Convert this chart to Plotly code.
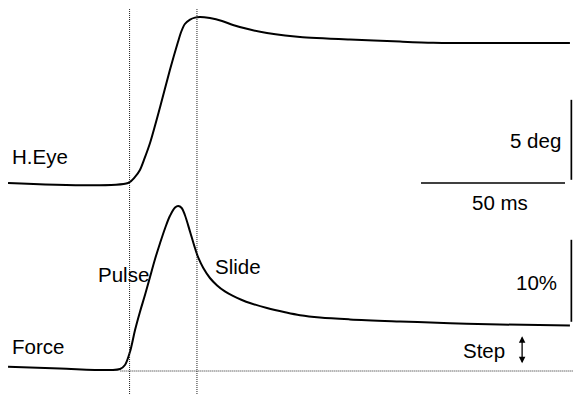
import plotly.graph_objects as go

# time in ms (0 = saccade onset)
eye_t = [-42.0, -0.3, 2.1, 3.8, 5.2, 7.3, 10.8, 14.2, 17.0, 18.1, 19.4, 21.2, 22.9, 24.6,
         28.1, 32.3, 36.1, 42.0, 47.9, 54.2, 59.4, 76.7, 94.1, 105.6, 118.4, 135.8, 153.1]
# horizontal eye position, deg
eye_deg = [0, 0, 0.38, 0.81, 1.44, 2.5, 4.75, 7.06, 8.81, 9.44, 9.94, 10.22, 10.34, 10.38,
           10.31, 10.13, 9.88, 9.59, 9.38, 9.22, 9.13, 8.97, 8.84, 8.77, 8.75, 8.75, 8.75]

force_t = [-42.0, -24.0, -6.6, -3.1, -1.4, 0.35, 2.1, 3.8, 5.6, 7.3, 9.0, 10.8, 12.5, 14.2,
           16.0, 17.1, 18.3, 19.4, 21.2, 22.9, 24.1, 25.8, 28.1, 30.6, 33.3, 36.1, 39.2, 42.0,
           47.9, 54.2, 59.4, 66.3, 76.7, 94.1, 111.5, 128.8, 153.1]
# muscle force, % of max
force_pct = [0.52, 0.30, 0.12, 0.24, 0.73, 2.35, 5.0, 7.2, 9.33, 11.46, 13.6, 15.61, 17.38,
             18.9, 19.94, 20.12, 19.88, 19.02, 16.99, 15.0, 13.78, 12.56, 11.34, 10.43, 9.70,
             9.15, 8.66, 8.29, 7.68, 7.16, 6.80, 6.52, 6.29, 6.04, 5.83, 5.67, 5.55]

phase_marks = [0.2, 23.6]          # onset / end of pulse, ms
deg_bar = [0.2, 5.2]               # 5 deg
ms_bar = [101.4, 151.4]            # 50 ms
pct_bar = [6.0, 16.0]              # 10 %
bar_t = 153.6
step_arrow = [0.75, 4.25]
step_t = 136.5

font = dict(family="Liberation Sans, Arial, Helvetica", size=20.5, color="black")

fig = go.Figure()
fig.add_trace(go.Scatter(x=eye_t, y=eye_deg, mode="lines", line=dict(color="black", width=2, shape="spline", smoothing=0.8), yaxis="y"))
fig.add_trace(go.Scatter(x=force_t, y=force_pct, mode="lines", line=dict(color="black", width=2, shape="spline", smoothing=1.0), yaxis="y2"))
fig.add_trace(go.Scatter(x=[bar_t, bar_t], y=deg_bar, mode="lines", line=dict(color="black", width=1.7), yaxis="y"))
fig.add_trace(go.Scatter(x=ms_bar, y=[0, 0], mode="lines", line=dict(color="black", width=1.7), yaxis="y"))
fig.add_trace(go.Scatter(x=[bar_t, bar_t], y=pct_bar, mode="lines", line=dict(color="black", width=1.7), yaxis="y2"))

for t in phase_marks:
    fig.add_shape(type="line", xref="x", yref="paper", x0=t, x1=t, y0=0, y1=0.977,
                  line=dict(color="#222", width=1, dash="1px,1px"))
fig.add_shape(type="line", xref="x", yref="y2", x0=-3, x1=154.2, y0=0, y1=0,
              line=dict(color="#222", width=1, dash="1px,1px"))

labels = [
    ("H.Eye", -41.3, 1.63, "y", "left"),
    ("5 deg", 150.7, 2.63, "y", "right"),
    ("50 ms", 128.8, -1.19, "y", "center"),
    ("Force", -41.3, 2.93, "y2", "left"),
    ("Pulse", -11.4, 11.8, "y2", "left"),
    ("Slide", 29.3, 12.7, "y2", "left"),
    ("10%", 149.3, 10.85, "y2", "right"),
    ("Step", 131.3, 2.56, "y2", "right"),
]
for txt, x, y, yr, anc in labels:
    fig.add_annotation(text=txt, x=x, y=y, xref="x", yref=yr, xanchor=anc, yanchor="middle",
                       showarrow=False, font=font)

fig.add_annotation(x=step_t, y=step_arrow[1], ax=step_t, ay=step_arrow[0], xref="x", yref="y2",
                   axref="x", ayref="y2", text="", showarrow=True, arrowhead=2, arrowside="end+start",
                   arrowsize=1, arrowwidth=1.3, arrowcolor="black")

fig.update_layout(
    width=573, height=394, margin=dict(l=0, r=0, t=0, b=0),
    paper_bgcolor="white", plot_bgcolor="white", showlegend=False,
    xaxis=dict(range=[-44.79, 154.17], visible=False),
    yaxis=dict(range=[-13.19, 11.44], visible=False),
    yaxis2=dict(range=[-2.805, 45.24], visible=False, overlaying="y"),
)
fig.write_html("out.html", config={"displayModeBar": False},
               post_script="document.body.style.margin='0px';")
